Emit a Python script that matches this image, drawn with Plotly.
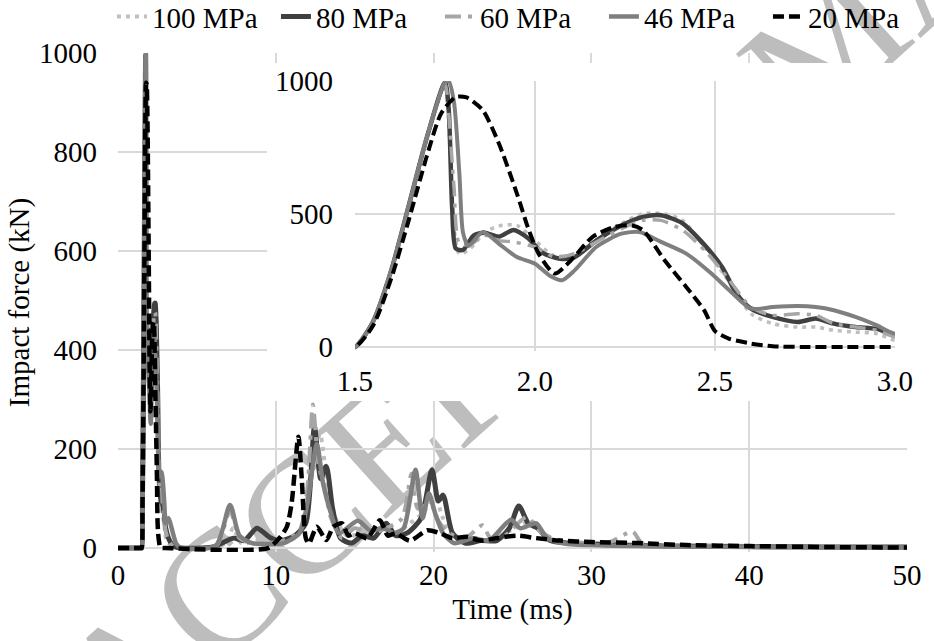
import plotly.graph_objects as go

# ---------------- data (time in ms, force in kN) ----------------
t_100 = [0, 1.45, 1.50, 1.55, 1.60, 1.65, 1.70, 1.75, 1.76, 1.775, 1.79, 1.82, 1.86, 1.90, 1.95, 2.00, 2.05,
         2.11, 2.17, 2.24, 2.30, 2.36, 2.41, 2.47, 2.53, 2.60, 2.66, 2.73, 2.78, 2.83, 2.89, 2.95, 3.00,
         3.2, 3.5, 4.0, 6.0, 6.8, 7.3, 7.8, 9.0, 10.5, 11.5, 12.2, 12.8, 13.3, 13.8, 14.5, 15.5, 16.5,
         17.5, 18.5, 19.3, 20.1, 20.6, 21.3, 22.5, 23.5, 24.5, 25.5, 26.2, 27.0, 28.0, 30.0, 33.0, 36.0,
         40.0, 45.0, 50.0]
f_100 = [0, 0, 0, 95, 285, 535, 790, 995, 850, 450, 350, 370, 430, 455, 457, 401, 345,
         345, 400, 464, 501, 501, 476, 376, 263, 125, 88, 75, 75, 63, 56, 50, 25,
         10, 2, 0, 0, 10, 40, 10, 15, 10, 30, 150, 230, 120, 60, 25, 30, 40,
         30, 50, 70, 100, 60, 20, 20, 15, 30, 45, 55, 25, 12, 10, 6, 4,
         3, 2, 1]

t_80 = [0, 1.45, 1.50, 1.55, 1.60, 1.65, 1.70, 1.75, 1.76, 1.77, 1.78, 1.80, 1.83, 1.86, 1.90, 1.94, 1.98,
        2.02, 2.07, 2.11, 2.17, 2.24, 2.30, 2.35, 2.41, 2.46, 2.52, 2.56, 2.60, 2.66, 2.73, 2.78, 2.83,
        2.89, 2.95, 3.00, 3.2, 3.5, 4.0, 6.0, 7.3, 8.0, 8.8, 9.6, 10.3, 11.2, 11.9, 12.45, 12.85, 13.2,
        13.6, 14.1, 14.8, 15.5, 16.2, 17.0, 17.6, 18.3, 19.2, 19.9, 20.3, 20.6, 21.2, 22.0, 23.0, 24.0,
        24.8, 25.4, 26.0, 26.6, 27.4, 28.5, 30.0, 32.0, 35.0, 40.0, 45.0, 50.0]
f_80 = [0, 0, 0, 95, 285, 535, 790, 995, 900, 520, 370, 365, 420, 430, 415, 440, 410,
        355, 332, 338, 400, 457, 489, 495, 465, 400, 300, 200, 144, 113, 94, 107, 88,
        75, 68, 44, 20, 4, 0, 2, 20, 15, 40, 22, 15, 25, 50, 245, 140, 165,
        80, 20, 10, 25, 20, 50, 25, 30, 60, 158, 95, 107, 30, 10, 15, 15,
        40, 85, 50, 40, 15, 10, 8, 6, 4, 3, 2, 2]

t_60 = [0, 1.45, 1.50, 1.55, 1.60, 1.65, 1.70, 1.75, 1.76, 1.775, 1.79, 1.82, 1.86, 1.90, 1.94, 2.00, 2.055,
        2.11, 2.17, 2.24, 2.30, 2.35, 2.41, 2.48, 2.54, 2.60, 2.66, 2.73, 2.78, 2.83, 2.89, 2.95, 3.00,
        3.2, 3.5, 4.0, 6.2, 7.1, 7.7, 8.5, 9.5, 10.5, 11.5, 12.0, 12.35, 12.7, 13.1, 13.5, 14.2, 15.0,
        16.0, 17.0, 18.0, 18.6, 19.0, 19.8, 20.3, 21.0, 22.0, 23.1, 23.6, 24.5, 25.9, 26.5, 27.5, 29.0,
        31.0, 32.6, 33.2, 35.0, 40.0, 45.0, 50.0]
f_60 = [0, 0, 0, 95, 285, 535, 790, 990, 880, 600, 390, 385, 420, 400, 395, 376, 338,
        351, 395, 445, 476, 476, 439, 351, 251, 150, 119, 125, 119, 88, 75, 63, 38,
        15, 3, 0, 3, 75, 20, 10, 10, 15, 35, 120, 290, 170, 120, 60, 20, 40,
        30, 40, 60, 150, 80, 90, 55, 30, 20, 46, 20, 25, 63, 40, 20, 12,
        10, 33, 10, 6, 3, 2, 1]

t_46 = [0, 1.45, 1.50, 1.55, 1.60, 1.65, 1.70, 1.75, 1.76, 1.775, 1.79, 1.80, 1.815, 1.855, 1.90, 1.95, 2.00,
        2.04, 2.075, 2.11, 2.17, 2.24, 2.29, 2.35, 2.42, 2.49, 2.54, 2.60, 2.66, 2.73, 2.78, 2.83, 2.89,
        2.95, 3.00, 3.2, 3.4, 3.7, 4.0, 6.2, 7.1, 7.7, 8.5, 9.5, 10.5, 11.5, 12.0, 12.6, 13.0, 13.5,
        14.0, 15.2, 16.0, 16.8, 17.5, 18.1, 18.85, 19.3, 19.7, 20.1, 20.6, 21.3, 22.5, 23.5, 24.9, 25.5,
        26.5, 27.2, 28.5, 30.0, 33.0, 36.0, 40.0, 45.0, 50.0]
f_46 = [0, 0, 0, 95, 285, 535, 790, 995, 1000, 920, 650, 430, 380, 432, 388, 338, 313,
        269, 251, 288, 376, 426, 432, 395, 351, 276, 213, 144, 150, 154, 150, 138, 113,
        81, 50, 60, 40, 8, 0, 5, 87, 25, 10, 8, 10, 30, 90, 210, 130, 70,
        30, 55, 35, 40, 30, 40, 158, 60, 110, 70, 30, 10, 20, 15, 57, 40,
        50, 20, 8, 6, 4, 3, 2, 1, 1]

t_20 = [0, 1.45, 1.50, 1.55, 1.60, 1.65, 1.70, 1.74, 1.78, 1.81, 1.855, 1.90, 1.95, 1.98, 2.01, 2.055, 2.10,
        2.16, 2.22, 2.27, 2.30, 2.36, 2.42, 2.47, 2.50, 2.54, 2.60, 2.66, 2.75, 3.00, 9.5, 10.3, 10.7,
        11.0, 11.43, 11.65, 11.9, 12.1, 12.6, 13.2, 13.65, 14.2, 14.6, 15.0, 15.8, 16.6, 17.1, 17.6, 18.5,
        19.6, 20.4, 21.2, 22.1, 23.0, 24.0, 25.3, 26.5, 28.0, 30.0, 33.0, 36.0, 40.0, 45.0, 50.0]
f_20 = [0, 0, 0, 80, 255, 480, 720, 880, 940, 938, 890, 764, 576, 451, 351, 276, 326,
        414, 451, 457, 439, 326, 226, 138, 60, 31, 13, 3, 0, 0, 0, 23, 43,
        90, 225, 137, 20, 9, 43, 16, 43, 50, 25, 30, 20, 56, 25, 30, 15,
        36, 30, 20, 23, 15, 20, 25, 20, 15, 12, 10, 6, 4, 2, 1]

series_names = ["100 MPa", "80 MPa", "60 MPa", "46 MPa", "20 MPa"]
series_t = [t_100, t_80, t_60, t_46, t_20]
series_f = [f_100, f_80, f_60, f_46, f_20]

main_x_ticks = [0, 10, 20, 30, 40, 50]
main_y_ticks = [0, 200, 400, 600, 800, 1000]
inset_x_ticks = [1.5, 2.0, 2.5, 3.0]
inset_y_ticks = [0, 500, 1000]

watermark_text = "ACCEPTED MANUSCRIPT"

# ---------------- styles ----------------
colors = ["#bfbfbf", "#404040", "#a6a6a6", "#7f7f7f", "#000000"]
dashes = ["4px,5px", "solid", "16px,7px,4px,7px", "solid", "11px,5px"]
widths = [4, 5, 4, 4.5, 4.5]

FONT = "'Liberation Serif', serif"
GRID = "#d9d9d9"

fig = go.Figure()

for name, tx, fy, c, d, w in zip(series_names, series_t, series_f, colors, dashes, widths):
    fig.add_trace(go.Scatter(
        x=tx, y=fy, mode="lines", name=name,
        line=dict(color=c, dash=d, width=w, shape="spline", smoothing=0.7),
        xaxis="x", yaxis="y", showlegend=True, hoverinfo="skip"))

for name, tx, fy, c, d, w in zip(series_names, series_t, series_f, colors, dashes, widths):
    fig.add_trace(go.Scatter(
        x=tx, y=fy, mode="lines", name=name,
        line=dict(color=c, dash=d, width=w - 0.5, shape="spline", smoothing=0.7),
        xaxis="x3", yaxis="y3", showlegend=False, hoverinfo="skip"))

# empty trace so the white box behind the inset exists as a subplot
fig.add_trace(go.Scatter(x=[None], y=[None], xaxis="x2", yaxis="y2",
                         showlegend=False, hoverinfo="skip"))

tickfont = dict(family=FONT, size=29, color="#000000")

fig.update_layout(
    width=934, height=641,
    margin=dict(l=118, r=0, t=53, b=89, autoexpand=False),
    paper_bgcolor="white", plot_bgcolor="white",
    font=dict(family=FONT, size=29, color="#000000"),
    xaxis=dict(domain=[0, 0.96691], range=[0, 50], tickvals=main_x_ticks,
               showgrid=True, gridcolor=GRID, gridwidth=2, zeroline=False,
               showline=False, ticks="", tickfont=tickfont, ticklabelstandoff=3,
               title=dict(text="Time (ms)", font=dict(family=FONT, size=29), standoff=8)),
    yaxis=dict(domain=[0, 1], range=[-8, 1000], tickvals=main_y_ticks,
               showgrid=True, gridcolor=GRID, gridwidth=2, zeroline=False,
               showline=False, ticks="", tickfont=tickfont, ticklabelstandoff=20,
               title=dict(text="Impact force (kN)", font=dict(family=FONT, size=29), standoff=0)),
    xaxis2=dict(domain=[0.18260, 1.0], anchor="y2", visible=False, range=[0, 1], fixedrange=True),
    yaxis2=dict(domain=[0.30261, 0.97996], anchor="x2", visible=False, range=[0, 1], fixedrange=True),
    xaxis3=dict(domain=[0.29044, 0.95221], anchor="y3", range=[1.5, 3.0], tickvals=inset_x_ticks,
                tickformat=".1f", showgrid=True, gridcolor=GRID, gridwidth=2, zeroline=False,
                showline=False, ticks="", tickfont=tickfont, ticklabelstandoff=10),
    yaxis3=dict(domain=[0.40281, 0.94389], anchor="x3", range=[-15, 1000], tickvals=inset_y_ticks,
                showgrid=True, gridcolor=GRID, gridwidth=2, zeroline=False,
                showline=False, ticks="", tickfont=tickfont, ticklabelstandoff=21),
    legend=dict(orientation="h", x=-0.0074, xanchor="left", y=1.124, yanchor="top",
                font=dict(family=FONT, size=29), entrywidth=119, entrywidthmode="pixels",
                bgcolor="rgba(0,0,0,0)", itemwidth=30, tracegroupgap=0),
    shapes=[dict(type="rect", xref="paper", yref="paper",
                 x0=0.8605, x1=0.8625, y0=1.055, y1=1.057,
                 line=dict(width=0), fillcolor="rgba(0,0,0,0)", layer="below",
                 label=dict(text=watermark_text, textangle=-42, textposition="middle center",
                            font=dict(family=FONT, size=170, color="#bdbdbd")))],
)

fig.write_html("out.html")
